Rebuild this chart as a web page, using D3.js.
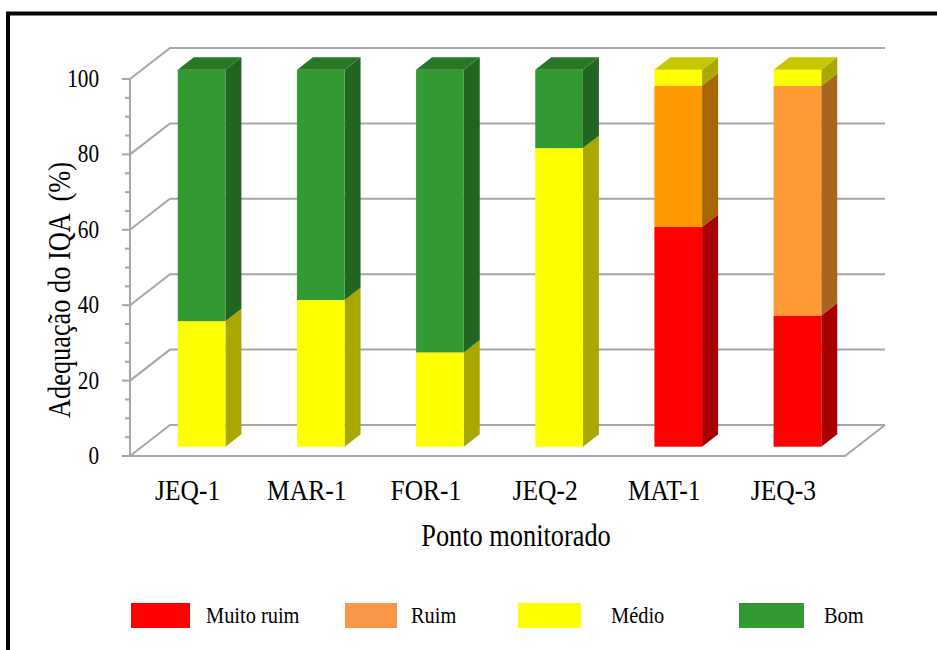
<!DOCTYPE html>
<html>
<head>
<meta charset="utf-8">
<script src="https://cdn.jsdelivr.net/npm/d3@7/dist/d3.min.js"></script>
<style>
  html, body { margin: 0; padding: 0; background: #fff; }
  svg { display: block; }
  svg text { font-family: "Liberation Serif", "Times New Roman", Tinos, "DejaVu Serif", serif; fill: #000; white-space: pre; }
</style>
</head>
<body>
<svg id="chart" width="937" height="650"></svg>
<script>
// Monitoring points and IQA class shares (%)
const categories = ["JEQ-1", "MAR-1", "FOR-1", "JEQ-2", "MAT-1", "JEQ-3"];
const seriesNames = ["Muito ruim", "Ruim", "Médio", "Bom"];
const muitoRuim = [0, 0, 0, 0, 58.3, 34.8];
const ruim      = [0, 0, 0, 0, 37.5, 60.9];
const medio     = [33.3, 38.9, 25.0, 79.2, 4.2, 4.3];
const bom       = [66.7, 61.1, 75.0, 20.8, 0, 0];
const yTicks = [0, 20, 40, 60, 80, 100];

// Fill colours per class (front face); the Ruim bar of MAT-1 uses a deeper orange
const seriesColors = ["#ff0000", "#ff9933", "#ffff00", "#339933"];
const legendColors = ["#ff0000", "#f79646", "#ffff00", "#339933"];
const ruimColorMAT = "#ff9900";

const svg = d3.select("#chart");
const serif = '"Liberation Serif", "Times New Roman", Tinos, "DejaVu Serif", serif';

// Plot geometry: front plane plus a receding depth offset
const x0 = 130, x1 = 845, yBase = 456, yTop = 79;
const depthX = 40, depthY = -31;
const barNear = 0.3, barFar = 0.7;     // bar position within the depth
const squeeze = 0.85;                  // narrow text rendering

const x = d3.scaleBand().domain(categories).range([x0, x1]).paddingInner(0.6).paddingOuter(0.3);
const y = d3.scaleLinear().domain([0, 100]).range([yBase, yTop]);

// Frame
svg.append("path")
  .attr("d", "M8,650 L8,13.5 L937,13.5")
  .attr("fill", "none").attr("stroke", "#000").attr("stroke-width", 4);

const grid = svg.append("g").attr("stroke", "#a6a6a6").attr("fill", "none").attr("stroke-width", 2);

// Back-wall gridlines and side-wall diagonals
yTicks.forEach(v => {
  const yy = y(v);
  grid.append("path")
    .attr("d", `M${x0},${yy} L${x0 + depthX},${yy + depthY} L${x1 + depthX},${yy + depthY}`);
});
// Floor front edge and right edge
grid.append("path").attr("d", `M${x0},${yBase} L${x1},${yBase} L${x1 + depthX},${yBase + depthY}`);

// Vertical axis with major and minor ticks
const axisG = svg.append("g").attr("stroke", "#a6a6a6").attr("stroke-width", 2);
axisG.append("line").attr("x1", x0).attr("x2", x0).attr("y1", y(0)).attr("y2", y(100));
d3.range(0, 101, 5).forEach(v => {
  const major = v % 20 === 0;
  axisG.append("line")
    .attr("x1", major ? x0 - 8 : x0 - 5).attr("x2", x0)
    .attr("y1", y(v)).attr("y2", y(v));
});

function label(g, tx, ty, size, str, anchor, extra) {
  return g.append("text")
    .attr("transform", `translate(${tx},${ty})${extra || ""} scale(${squeeze},1)`)
    .attr("text-anchor", anchor)
    .attr("font-family", serif)
    .attr("font-size", size)
    .text(str);
}

// Tick labels
yTicks.forEach(v => label(svg, 99, y(v) + 8, 25, v, "end"));

// Stack the series
const table = categories.map((c, i) => ({
  cat: c, "Muito ruim": muitoRuim[i], "Ruim": ruim[i], "Médio": medio[i], "Bom": bom[i]
}));
const stacked = d3.stack().keys(seriesNames)(table);

const bw = x.bandwidth();
const nx = depthX * barNear, ny = depthY * barNear;
const bdx = depthX * (barFar - barNear), bdy = depthY * (barFar - barNear);

function faceColor(si, cat) {
  if (si === 1 && cat === "MAT-1") return ruimColorMAT;
  return seriesColors[si];
}

const bars = svg.append("g");
categories.forEach((cat, ci) => {
  const segs = stacked.map((s, si) => ({ si, lo: s[ci][0], hi: s[ci][1] })).filter(d => d.hi - d.lo > 0);
  const top = segs[segs.length - 1];
  segs.forEach(d => {
    const c = d3.color(faceColor(d.si, cat));
    const left = x(cat) + nx, right = left + bw;
    const yHi = y(d.hi) + ny, yLo = y(d.lo) + ny;
    // side face
    bars.append("path")
      .attr("d", `M${right},${yLo} L${right + bdx},${yLo + bdy} L${right + bdx},${yHi + bdy} L${right},${yHi}Z`)
      .attr("fill", d3.rgb(c.r * 0.66, c.g * 0.66, c.b * 0.66));
    // front face
    bars.append("rect")
      .attr("x", left).attr("y", yHi).attr("width", bw).attr("height", yLo - yHi)
      .attr("fill", c);
    if (d === top) {
      bars.append("path")
        .attr("d", `M${left},${yHi} L${left + bdx},${yHi + bdy} L${right + bdx},${yHi + bdy} L${right},${yHi}Z`)
        .attr("fill", d3.rgb(c.r * 0.78, c.g * 0.78, c.b * 0.78));
    }
  });
});

// Category labels
categories.forEach(cat => label(svg, x(cat) + bw / 2 - 2, 500, 30, cat, "middle"));

// Axis titles
label(svg, 516, 546, 31, "Ponto monitorado", "middle");
label(svg, 70, 290, 31, "Adequação do IQA  (%)", "middle", " rotate(-90)");

// Legend
const legendRects = [[131, 59], [345, 52], [518, 63], [739, 65]];
const legendText = [206, 411, 611, 824];
seriesNames.forEach((name, i) => {
  svg.append("rect")
    .attr("x", legendRects[i][0]).attr("y", 603)
    .attr("width", legendRects[i][1]).attr("height", 25)
    .attr("fill", legendColors[i]);
  label(svg, legendText[i], 623, 24, name, "start");
});
</script>
</body>
</html>
